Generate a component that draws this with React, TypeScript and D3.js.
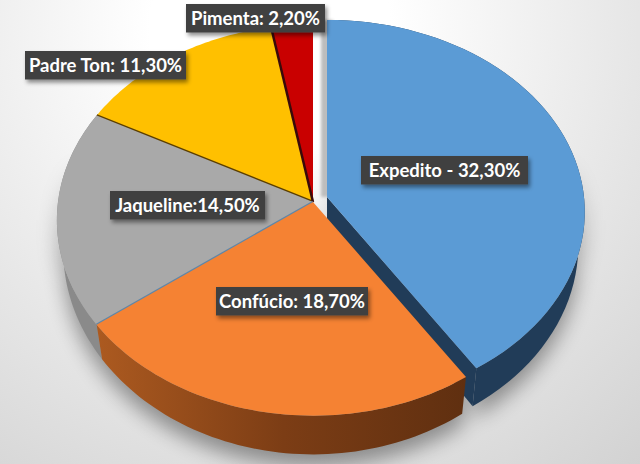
import * as d3 from "d3";
import React from "react";

const names = ["Expedito", "Confúcio", "Jaqueline", "Padre Ton", "Pimenta"];
const shares = [32.3, 18.7, 14.5, 11.3, 2.2];
const labels = ["Expedito - 32,30%", "Confúcio: 18,70%", "Jaqueline:14,50%", "Padre Ton: 11,30%", "Pimenta: 2,20%"];

const topColors = ["#5b9bd5", "#f58233", "#a9a9a9", "#ffc000", "#c90000"];
const wallColors = ["#213c58", "url(#orangeWall)", "#8a8a8a", "#8f6b00", "#700000"];
const edgeColors = ["none", "none", "#5f86a8", "#5c3f00", "#3a0a0a"];
// label box: left, top, width
const labelBoxes = [
  [361, 156, 167],
  [216, 287, 152],
  [110, 191, 155],
  [25, 51, 161],
  [186, 4, 139],
];

const width = 640;
const height = 464;

// perspective setup of the main disc and of the pulled-out slice
const mainDisc = { cx: 313, cy: 202, rx: 255, ry: 188, k: 0.09, q: 0.03, depth: 30 };
const pulledDisc = { cx: 327, cy: 197, rx: 257, ry: 190, k: 0.077, q: 0.004, depth: 33 };
const lowShrink = 0.975;

type Disc = typeof mainDisc;

const project = (d: Disc, x: number, y: number, low = false): [number, number] => {
  const s = 1 / (1 - d.k * y - d.q * y * y);
  return [d.cx + d.rx * x * s * (low ? lowShrink : 1), d.cy + d.ry * y * s + (low ? d.depth * s * s : 0)];
};

const rim = (d: Disc, a0: number, a1: number, low = false) =>
  d3.range(0, 61).map((i) => {
    const a = a0 + ((a1 - a0) * i) / 60;
    return project(d, Math.sin(a), -Math.cos(a), low);
  });

const line = d3.line();

const slices = d3.pie<number>().sort(null)(shares);

const discOf = (i: number) => (i === 0 ? pulledDisc : mainDisc);

const topPath = (i: number) => {
  const d = discOf(i);
  const s = slices[i];
  return line([project(d, 0, 0), ...rim(d, s.startAngle, s.endAngle)])! + "Z";
};

const wallPath = (i: number) => {
  const d = discOf(i);
  const s = slices[i];
  return line([...rim(d, s.startAngle, s.endAngle), ...rim(d, s.endAngle, s.startAngle, true)])! + "Z";
};

// inner wall along the end edge, only the pulled slice shows it
const innerWall = (i: number) => {
  const d = discOf(i);
  const end = slices[i].endAngle;
  const x = Math.sin(end);
  const y = -Math.cos(end);
  return line([project(d, 0, 0), project(d, x, y), project(d, x, y, true), project(d, 0, 0, true)])! + "Z";
};

const edgePath = (i: number) => {
  const d = discOf(i);
  const a = slices[i].startAngle;
  return line([project(d, 0, 0), project(d, Math.sin(a), -Math.cos(a))])!;
};

const wallOrder = [0, 2, 1];
const topOrder = [3, 4, 2, 1];

export default function App() {
  document.body.style.margin = "0";
  return (
    <svg width={width} height={height} style={{ display: "block" }} fontFamily="Lato, sans-serif">
      <defs>
        <radialGradient id="bg" cx="270" cy="30" r="600" gradientUnits="userSpaceOnUse">
          <stop offset="0.2" stopColor="#ffffff" />
          <stop offset="0.58" stopColor="#e8e8e8" />
          <stop offset="0.95" stopColor="#d2d2d2" />
        </radialGradient>
        <linearGradient id="orangeWall" x1="97" x2="470" y1="0" y2="0" gradientUnits="userSpaceOnUse">
          <stop offset="0" stopColor="#ac5a20" />
          <stop offset="0.5" stopColor="#7c3d15" />
          <stop offset="1" stopColor="#5f2f10" />
        </linearGradient>
        <linearGradient id="fadeDown" x1="0" x2="0" y1="150" y2="290" gradientUnits="userSpaceOnUse">
          <stop offset="0" stopColor="#000" />
          <stop offset="1" stopColor="#fff" />
        </linearGradient>
        <mask id="shadowMask" maskUnits="userSpaceOnUse" x="0" y="0" width={width} height={height}>
          <rect width={width} height={height} fill="url(#fadeDown)" />
        </mask>
        <filter id="blur" filterUnits="userSpaceOnUse" x="0" y="0" width={width} height={height}>
          <feGaussianBlur stdDeviation="10" />
        </filter>
        <filter id="softLine" filterUnits="userSpaceOnUse" x="0" y="0" width={width} height={height}>
          <feGaussianBlur stdDeviation="1.5" />
        </filter>
        <filter id="boxShadow" x="-10%" y="-30%" width="120%" height="170%">
          <feDropShadow dx="2" dy="3" stdDeviation="2" floodColor="#000" floodOpacity="0.45" />
        </filter>
      </defs>
      <rect width={width} height={height} fill="url(#bg)" />
      <g mask="url(#shadowMask)">
        <g filter="url(#blur)" fill="#000" opacity={0.38} transform="translate(0,12)">
          {wallOrder.map((i) => (
            <path key={i} d={wallPath(i)} />
          ))}
          {wallOrder.map((i) => (
            <path key={i} d={topPath(i)} />
          ))}
        </g>
      </g>
      <path d={edgePath(0)} stroke="#bdbdbd" strokeWidth={12} fill="none" filter="url(#softLine)" />
      {wallOrder.map((i) => (
        <g key={names[i]}>
          <path d={wallPath(i)} fill={wallColors[i]} />
          {i === 0 && <path d={innerWall(i)} fill={wallColors[i]} />}
        </g>
      ))}
      {topOrder.map((i) => (
        <g key={names[i]}>
          <path d={topPath(i)} fill={topColors[i]} />
          <path d={edgePath(i)} fill="none" stroke={edgeColors[i]} strokeWidth={2.5} />
        </g>
      ))}
      <path d={topPath(0)} fill={topColors[0]} />
      {labels.map((t, i) => {
        const [x, y, w] = labelBoxes[i];
        return (
          <g key={t}>
            <rect x={x} y={y} width={w} height={28.5} fill="#404040" filter="url(#boxShadow)" />
            <text x={x + w / 2} y={y + 20.5} textAnchor="middle" fill="#fff" fontSize={18.5} fontWeight={700}>
              {t}
            </text>
          </g>
        );
      })}
    </svg>
  );
}
